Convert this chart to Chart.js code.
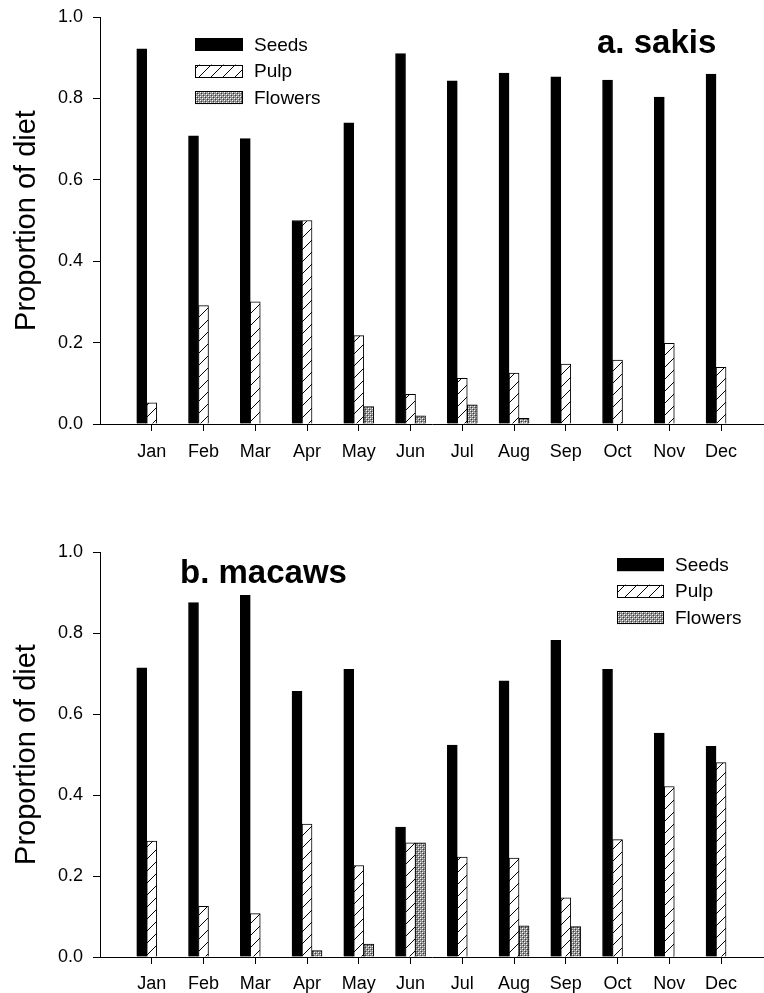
<!DOCTYPE html>
<html>
<head>
<meta charset="utf-8">
<title>Proportion of diet — sakis and macaws</title>
<script src="https://cdn.jsdelivr.net/npm/chart.js@4.4.1/dist/chart.umd.min.js"></script>
<style>
  html, body { margin: 0; padding: 0; background: #fff; }
  #wrap { position: relative; width: 764px; height: 993px; overflow: hidden; }
  canvas { position: absolute; left: 0; }
  #sakis { top: 0; }
  #macaws { top: 490px; }
</style>
</head>
<body>
<div id="wrap">
  <canvas id="sakis" width="764" height="490"></canvas>
  <canvas id="macaws" width="764" height="503"></canvas>
</div>
<script>
// Monthly proportion of each food type in the diet
const months = ['Jan', 'Feb', 'Mar', 'Apr', 'May', 'Jun', 'Jul', 'Aug', 'Sep', 'Oct', 'Nov', 'Dec'];
const foodTypes = ['Seeds', 'Pulp', 'Flowers'];
const yTicks = [0, 0.2, 0.4, 0.6, 0.8, 1.0];

const sakisSeeds   = [0.922, 0.708, 0.701, 0.500, 0.740, 0.910, 0.843, 0.862, 0.853, 0.845, 0.803, 0.860];
const sakisPulp    = [0.052, 0.291, 0.300, 0.500, 0.217, 0.073, 0.112, 0.125, 0.147, 0.157, 0.198, 0.139];
const sakisFlowers = [0, 0, 0, 0, 0.043, 0.020, 0.047, 0.014, 0, 0, 0, 0];

const macawSeeds   = [0.714, 0.875, 0.893, 0.656, 0.710, 0.321, 0.523, 0.682, 0.782, 0.710, 0.553, 0.520];
const macawPulp    = [0.286, 0.125, 0.107, 0.328, 0.226, 0.282, 0.247, 0.244, 0.146, 0.290, 0.421, 0.480];
const macawFlowers = [0, 0, 0, 0.016, 0.032, 0.282, 0, 0.077, 0.075, 0, 0, 0];

const FONT = "'Liberation Sans', Arial, Helvetica, sans-serif";
Chart.defaults.font.family = FONT;
Chart.defaults.color = '#000';

// Fill patterns: diagonal hatch for pulp, fine stipple for flowers
function hatchPattern() {
  const c = document.createElement('canvas');
  c.width = 12; c.height = 12;
  const g = c.getContext('2d');
  g.fillStyle = '#fff';
  g.fillRect(0, 0, 12, 12);
  g.strokeStyle = '#000';
  g.lineWidth = 1;
  g.beginPath();
  g.moveTo(-1, 13); g.lineTo(13, -1);
  g.stroke();
  return g.createPattern(c, 'repeat');
}
function stipplePattern() {
  const c = document.createElement('canvas');
  c.width = 4; c.height = 4;
  const g = c.getContext('2d');
  g.fillStyle = '#8a8a8a';
  g.fillRect(0, 0, 4, 4);
  g.fillStyle = '#ffffff';
  g.fillRect(0, 0, 1, 1);
  g.fillRect(2, 2, 1, 1);
  g.fillStyle = '#c8c8c8';
  g.fillRect(2, 0, 1, 1);
  g.fillRect(0, 2, 1, 1);
  g.fillStyle = '#3a3a3a';
  g.fillRect(1, 1, 1, 1);
  g.fillRect(3, 3, 1, 1);
  return g.createPattern(c, 'repeat');
}
const fills = ['#000000', hatchPattern(), stipplePattern()];

// Panel letter and legend drawn on top of the plot
const panelDecor = {
  id: 'panelDecor',
  afterDraw(chart, args, opts) {
    const ctx = chart.ctx;
    ctx.save();
    ctx.fillStyle = '#000';
    ctx.font = 'bold 33px ' + FONT;
    ctx.textAlign = 'left';
    ctx.textBaseline = 'alphabetic';
    ctx.fillText(opts.label, opts.labelX, opts.labelY);

    ctx.font = '19px ' + FONT;
    ctx.textBaseline = 'middle';
    chart.data.datasets.forEach((ds, i) => {
      const cy = opts.legendY + i * opts.legendStep;
      const x = opts.legendX, w = opts.boxW, h = 13;
      ctx.fillStyle = ds.backgroundColor;
      ctx.fillRect(x, cy - h / 2, w, h);
      ctx.strokeStyle = '#000';
      ctx.lineWidth = 1;
      ctx.strokeRect(x + 0.5, Math.round(cy - h / 2) + 0.5, w - 1, h - 1);
      ctx.fillStyle = '#000';
      ctx.fillText(ds.label, x + w + 11, cy + 1);
    });
    ctx.restore();
  }
};

function makeChart(id, series, decor, padTop, xAxisHeight, xLabelPad) {
  const datasets = series.map((vals, k) => ({
    label: foodTypes[k],
    data: vals.map((v, i) => ({ x: i + 1, y: v })),
    backgroundColor: fills[k],
    borderColor: '#000',
    borderWidth: 1,
    barThickness: 10,
    borderSkipped: 'bottom'
  }));
  return new Chart(document.getElementById(id), {
    type: 'bar',
    data: { datasets },
    plugins: [panelDecor],
    options: {
      responsive: false,
      animation: false,
      devicePixelRatio: 1,
      layout: { padding: { top: padTop, right: 0, bottom: 0, left: 0 } },
      plugins: {
        legend: { display: false },
        tooltip: { enabled: false },
        panelDecor: decor
      },
      scales: {
        x: {
          type: 'linear',
          min: 0,
          max: 12.83,
          offset: false,
          grid: { display: true, drawOnChartArea: false, drawTicks: true, tickLength: 7, color: '#000', offset: false },
          border: { display: true, color: '#000', width: 1 },
          afterBuildTicks: s => { s.ticks = months.map((m, i) => ({ value: i + 1 })); },
          afterFit: s => { s.height = xAxisHeight; s.paddingLeft = 0; s.paddingRight = 0; },
          ticks: {
            autoSkip: false,
            maxRotation: 0,
            padding: xLabelPad,
            font: { size: 18 },
            color: '#000',
            callback: v => months[v - 1]
          }
        },
        y: {
          min: 0,
          max: 1,
          grid: { display: true, drawOnChartArea: false, drawTicks: true, tickLength: 7, color: '#000' },
          border: { display: true, color: '#000', width: 1 },
          afterBuildTicks: s => { s.ticks = yTicks.map(v => ({ value: v })); },
          afterFit: s => { s.width = 100; s.paddingTop = 0; s.paddingBottom = 0; },
          title: {
            display: true,
            text: 'Proportion of diet',
            font: { size: 29 },
            color: '#000',
            padding: { top: 10, bottom: 0 }
          },
          ticks: {
            padding: 10,
            font: { size: 18 },
            color: '#000',
            callback: v => Number(v).toFixed(1)
          }
        }
      }
    }
  });
}

makeChart('sakis', [sakisSeeds, sakisPulp, sakisFlowers],
  { label: 'a. sakis', labelX: 597, labelY: 53, legendX: 195, legendY: 44.5, legendStep: 26.6, boxW: 48 },
  17, 66, 10);

makeChart('macaws', [macawSeeds, macawPulp, macawFlowers],
  { label: 'b. macaws', labelX: 180, labelY: 583 - 490, legendX: 617, legendY: 564.7 - 490, legendStep: 26.5, boxW: 47 },
  62, 36, 9);
</script>
</body>
</html>
